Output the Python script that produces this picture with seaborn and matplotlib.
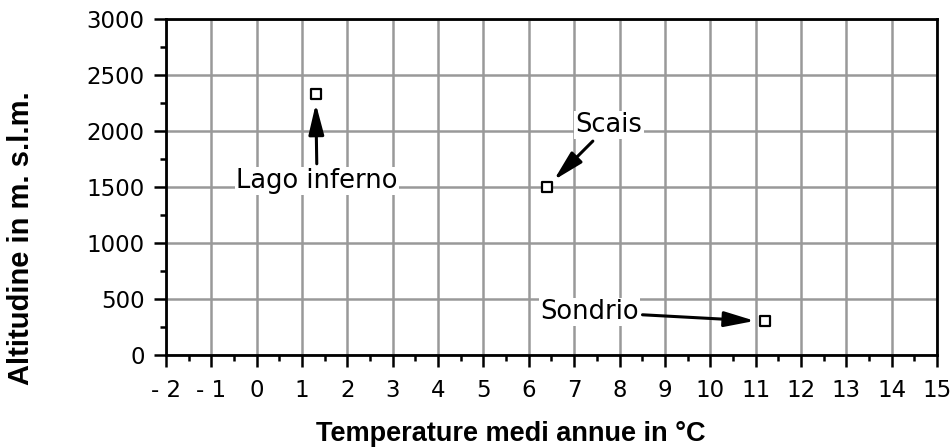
import pandas as pd
import matplotlib
matplotlib.use("Agg")
import matplotlib.pyplot as plt
import seaborn as sns
from matplotlib.ticker import MultipleLocator, FuncFormatter

# Data
places = ["Lago inferno", "Scais", "Sondrio"]
temperature = [1.3, 6.4, 11.2]
altitude = [2330, 1500, 300]

# label positions (data coords) for the callouts
label_x = [1.33, 7.77, 7.33]
label_y = [1555, 2055, 385]

df = pd.DataFrame({"place": places, "temp": temperature, "alt": altitude})

sns.set_style("white")
plt.rcParams["font.family"] = ["Liberation Sans", "DejaVu Sans"]
plt.rcParams.update({"text.color": "black", "axes.labelcolor": "black",
                     "xtick.color": "black", "ytick.color": "black"})

fig = plt.figure(figsize=(9.52, 4.47), dpi=100)
ax = fig.add_axes([0.1744, 0.2058, 0.8098, 0.7517])

sns.scatterplot(data=df, x="temp", y="alt", marker="s", s=55,
                facecolor="white", edgecolor="black", linewidth=1.6,
                zorder=5, ax=ax)

ax.set_xlim(-2, 15)
ax.set_ylim(0, 3000)
ax.xaxis.set_major_locator(MultipleLocator(1))
ax.xaxis.set_minor_locator(MultipleLocator(0.5))
ax.yaxis.set_major_locator(MultipleLocator(500))
ax.yaxis.set_minor_locator(MultipleLocator(250))
ax.xaxis.set_major_formatter(FuncFormatter(
    lambda v, p: f"- {abs(int(v))}" if v < 0 else f"{int(v)}"))

ax.grid(True, which="major", color="#999999", linewidth=1.8)
ax.set_axisbelow(True)
for sp in ax.spines.values():
    sp.set_color("black")
    sp.set_linewidth(2.0)
    sp.set_zorder(3)

ax.tick_params(axis="both", which="major", direction="out", length=8.5,
               width=1.8, color="black", labelcolor="black", labelsize=16.5,
               bottom=True, left=True)
ax.tick_params(axis="x", which="major", pad=9)
ax.tick_params(axis="y", which="major", pad=7)
ax.tick_params(axis="both", which="minor", direction="out", length=4,
               width=1.8, color="black", bottom=True, left=True)
for lab in ax.get_xticklabels() + ax.get_yticklabels():
    lab.set_fontfamily("DejaVu Sans")

ax.set_xlabel("Temperature medi annue in °C", fontsize=19.5, fontweight="bold")
ax.set_ylabel("Altitudine in m. s.l.m.", fontsize=21, fontweight="bold")
ax.xaxis.set_label_coords(0.447, -0.195)
ax.yaxis.set_label_coords(-0.17, 0.348)

for name, tx, ty, px, py in zip(places, label_x, label_y, temperature, altitude):
    ax.annotate(name, xy=(px, py), xytext=(tx, ty), family="DejaVu Sans",
                fontsize=18.5, ha="center", va="center", zorder=6,
                bbox=dict(boxstyle="square,pad=0.05", fc="white", ec="none"),
                arrowprops=dict(arrowstyle="-|>,head_length=1.0,head_width=0.25",
                                color="black", lw=2.2, shrinkA=2, shrinkB=7))

fig.savefig("out.png", dpi=100)
